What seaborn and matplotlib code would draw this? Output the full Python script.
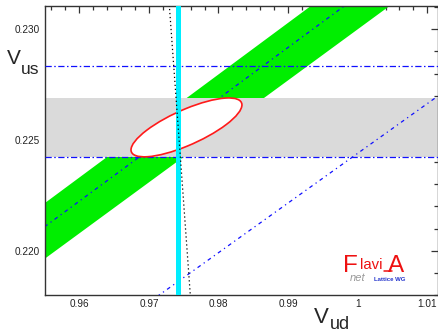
import numpy as np
import matplotlib
matplotlib.use('Agg')
import matplotlib.pyplot as plt
from matplotlib.patches import Ellipse
from matplotlib.lines import Line2D
from matplotlib.ticker import MultipleLocator
import seaborn as sns

# ---- data ----
vud_range = [0.955, 1.0115]
# green band (ratio |Vus/Vud| constraint), lower / upper edge
green_lo = [0.21963, 0.23265]
green_hi = [0.22214, 0.23530]
green_mid = [0.22108, 0.23416]
# second ratio line
ratio2_vus = [0.21430, 0.22698]
# |Vus| band (gray) and dash-dot lines
vus_band = [0.22422, 0.22690]
vus_lines = [0.22833, 0.22422]
# |Vud| band (cyan)
vud_band = [0.97388, 0.97468]
# unitarity curve (dotted)
unit_vud = [0.97293, 0.97446, 0.97595]
unit_vus = [0.2311, 0.2245, 0.2180]
# fit ellipse: centre, sigmas, correlation
ell_center = (0.97540, 0.22557)
ell_sig = (0.00797, 0.00133)
ell_rho = 0.763

x_ticks = [0.96, 0.97, 0.98, 0.99, 1.00, 1.01]
x_labels = ['0.96', '0.97', '0.98', '0.99', '1', '1.01']
y_ticks = [0.220, 0.225, 0.230]
y_labels = ['0.220', '0.225', '0.230']

sns.set_theme(style="white")
plt.rcParams['font.family'] = ['Liberation Sans', 'DejaVu Sans']

W, H = 438, 332
fig, ax = plt.subplots(figsize=(W / 100, H / 100), dpi=100)
fig.subplots_adjust(left=44.5 / W, right=437.5 / W, bottom=1 - 295 / H, top=1 - 6 / H)

# green band + its central line
ax.fill_between(vud_range, green_lo, green_hi, color='#00ee00', linewidth=0, zorder=1)
sns.lineplot(x=vud_range, y=green_mid, ax=ax, color='#1010ff', linewidth=0.9,
             linestyle=(0, (3, 3, 1, 3)), zorder=1.5)

# gray band
ax.axhspan(vus_band[0], vus_band[1], color='#dadada', linewidth=0, zorder=2)
for v in vus_lines:
    ax.axhline(v, color='#1010ff', linewidth=0.9, linestyle=(0, (5, 2, 1.2, 2)), zorder=3)
sns.lineplot(x=vud_range, y=ratio2_vus, ax=ax, color='#1010ff', linewidth=0.9,
             linestyle=(0, (3, 3, 1, 3)), zorder=3)

# ellipse
cov = np.array([[ell_sig[0] ** 2, ell_rho * ell_sig[0] * ell_sig[1]],
                [ell_rho * ell_sig[0] * ell_sig[1], ell_sig[1] ** 2]])
vals, vecs = np.linalg.eigh(cov)
ang = np.degrees(np.arctan2(vecs[1, 1], vecs[0, 1]))
ax.add_patch(Ellipse(ell_center, 2 * np.sqrt(vals[1]), 2 * np.sqrt(vals[0]), angle=ang,
                     facecolor='white', edgecolor='#ff1a1a', linewidth=1.2, zorder=4))

# cyan band
ax.axvspan(vud_band[0], vud_band[1], color='#00eeff', linewidth=0, zorder=5)

# unitarity
sns.lineplot(x=unit_vud, y=unit_vus, ax=ax, sort=False, color='black', linewidth=0.9,
             linestyle=(0, (1, 2.2)), zorder=6)

ax.set_xlim(0.955, 1.01147)
ax.set_ylim(0.218, 0.231053)
ax.set_xticks(x_ticks)
ax.set_xticklabels(x_labels)
ax.set_yticks(y_ticks)
ax.set_yticklabels(y_labels)
ax.xaxis.set_minor_locator(MultipleLocator(0.002))
ax.yaxis.set_minor_locator(MultipleLocator(0.001))
ax.tick_params(which='both', direction='in', top=True, right=True, color='#333333',
               width=0.9, labelsize=7.2, labelcolor='#222222', pad=3)
ax.tick_params(which='major', length=5)
ax.tick_params(which='minor', length=2.6)
for s in ax.spines.values():
    s.set_color('#333333')
    s.set_linewidth(1.0)
ax.set_xlabel('')
ax.set_ylabel('')

# axis titles
fig.text(7 / W, 1 - 64 / H, 'V', fontsize=15, ha='left', va='baseline')
fig.text(21 / W, 1 - 74 / H, 'us', fontsize=12.5, ha='left', va='baseline')
fig.text(314 / W, 1 - 323 / H, 'V', fontsize=16, ha='left', va='baseline')
fig.text(329.5 / W, 1 - 329 / H, 'ud', fontsize=13, ha='left', va='baseline')

# FlaviA logo
red = '#ee1111'
fig.text(343 / W, 1 - 271.5 / H, 'F', fontsize=17.5, color=red, ha='left', va='baseline')
fig.text(360 / W, 1 - 268.7 / H, 'lavi', fontsize=10.7, color=red, ha='left', va='baseline')
fig.text(387.5 / W, 1 - 271.5 / H, 'A', fontsize=17.5, color=red, ha='left', va='baseline')
fig.add_artist(Line2D([383.5 / W, 392 / W], [1 - 270.5 / H, 1 - 270.5 / H], color=red,
                      linewidth=1.1, transform=fig.transFigure))
fig.text(350 / W, 1 - 281.3 / H, 'net', fontsize=8, color='#999999', style='italic',
         ha='left', va='baseline')
fig.text(374 / W, 1 - 281.3 / H, 'Lattice WG', fontsize=4.3, color='#2233cc',
         weight='bold', ha='left', va='baseline')

fig.savefig('out.png', dpi=100)
